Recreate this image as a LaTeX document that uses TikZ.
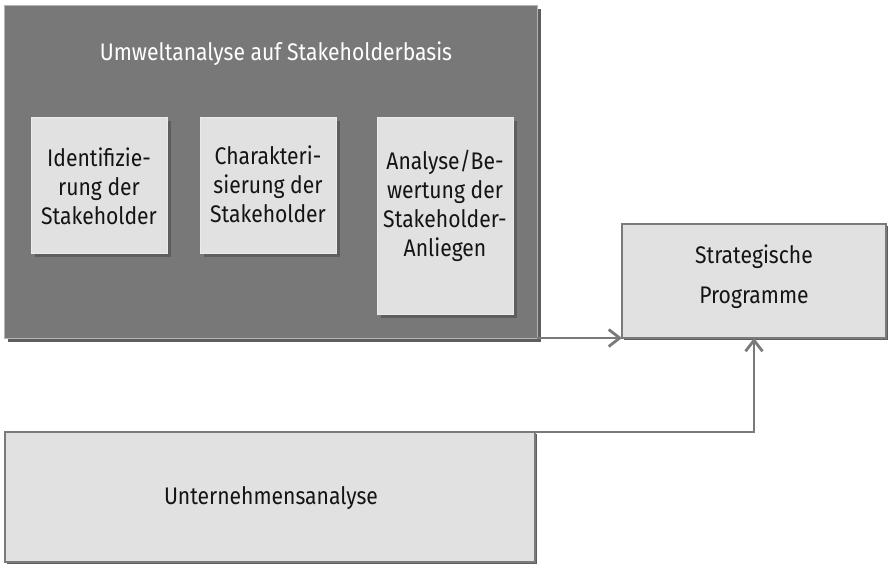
\documentclass[tikz,border=0pt]{standalone}
\usepackage{fontspec}
\setmainfont{Fira Sans}[FakeStretch=0.88]
\usetikzlibrary{arrows.meta,shadows}

\definecolor{panelgray}{HTML}{787878}
\definecolor{panelrim}{HTML}{B4B4B4}
\definecolor{panelshade}{HTML}{5E5E5E}
\definecolor{cardfill}{HTML}{E1E1E1}
\definecolor{cardrim}{HTML}{EBEBEB}
\definecolor{linegray}{HTML}{7A7A7A}
\definecolor{inkblack}{HTML}{141414}

\tikzset{
  panel/.style={draw=panelrim, line width=1pt, fill=panelgray, inner sep=0pt, outer sep=0pt,
    drop shadow={shadow xshift=4pt, shadow yshift=-4pt, fill=panelshade, opacity=1}},
  stepbox/.style={draw=cardrim, line width=1pt, fill=cardfill, inner sep=0pt, outer sep=0pt,
    drop shadow={shadow xshift=4pt, shadow yshift=-4pt, fill=panelshade, opacity=1}},
  mainbox/.style={draw=linegray, line width=2.8pt, fill=cardfill, inner sep=0pt, outer sep=0pt,
    drop shadow={shadow xshift=2pt, shadow yshift=-2pt, fill=panelshade, opacity=1}},
  label/.style={text=inkblack, align=center, inner sep=0pt},
  conn/.style={draw=linegray, line width=2.8pt, -{Straight Barb[length=11pt,width=17pt]}},
}

\begin{document}
\begin{tikzpicture}[x=1pt, y=-1pt, font=\fontsize{24}{29}\selectfont]
\useasboundingbox (0,0) rectangle (892,565);

% stakeholder-based environment analysis
\node[panel, anchor=north west, minimum width=533pt, minimum height=333pt] (env) at (4,5) {};
\node[text=white, inner sep=0pt] (envtitle) at (276,54) {Umweltanalyse auf Stakeholderbasis};

\node[stepbox, anchor=north west, minimum width=136pt, minimum height=136pt] (ident) at (31,117) {};
\node[label] (identtext) at (99,186) {Identifizie-\\rung der\\Stakeholder};

\node[stepbox, anchor=north west, minimum width=136pt, minimum height=136pt] (charac) at (200,117) {};
\node[label] (charactext) at (268,184) {Charakteri-\\sierung der\\Stakeholder};

\node[stepbox, anchor=north west, minimum width=136pt, minimum height=197pt] (eval) at (377,117) {};
\node[label] (evaltext) at (445,206) {Analyse/Be-\\wertung der\\Stakeholder-\\Anliegen};

% strategic programmes
\node[mainbox, anchor=north west, minimum width=264pt, minimum height=114pt] (strat) at (622,224) {};
\node[label, font=\fontsize{24}{40}\selectfont] (strattext) at (754,277) {Strategische\\Programme};

% company analysis
\node[mainbox, anchor=north west, minimum width=530pt, minimum height=130pt] (company) at (5,432) {};
\node[label] (companytext) at (271,498) {Unternehmensanalyse};

% connectors
\draw[conn] (env.south east) -- (strat.south west);
\draw[conn] (company.north east) -| (strat.south);
\end{tikzpicture}
\end{document}
